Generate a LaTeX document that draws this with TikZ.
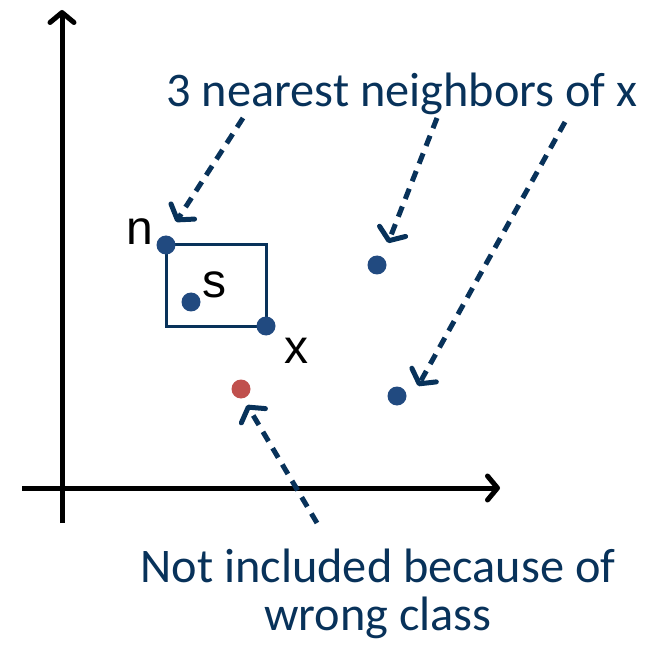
\documentclass[tikz,border=0pt]{standalone}
\usepackage{fontspec}
\setmainfont{Carlito}
\newfontfamily\arialfont{Liberation Sans}
\usetikzlibrary{arrows.meta}
\definecolor{navy}{RGB}{8,50,90}
\definecolor{dotblue}{RGB}{33,74,128}
\definecolor{dotred}{RGB}{192,80,77}
\tikzset{
  axis/.style={line width=5pt, -{Straight Barb[length=10pt,width=24pt,line width=5pt,round]}},
  ptr/.style={navy, line width=5pt, dash pattern=on 11pt off 8pt, -{Straight Barb[length=10pt,width=28pt,line width=5pt,round]}},
  dot/.style={circle, fill=#1, inner sep=0pt, minimum size=19pt},
  lbl/.style={font=\arialfont\fontsize{48}{52}\selectfont, anchor=base, inner sep=0pt},
  captext/.style={font=\fontsize{48.3}{52}\selectfont, text=navy, anchor=base, inner sep=0pt}
}
\begin{document}
\begin{tikzpicture}[x=1pt,y=-1pt]
\useasboundingbox (0,0) rectangle (651,647);
% axes
\coordinate (yb) at (62,523);
\coordinate (yt) at (62,10);
\coordinate (xl) at (22,488);
\coordinate (xr) at (500,488);
\draw[axis] (yb) -- (yt);
\draw[axis] (xl) -- (xr);
% points
\coordinate (nc) at (166,245);
\coordinate (xc) at (266,326);
\draw[navy, line width=3pt] (nc) rectangle (xc);
\node[dot=dotblue] (n) at (nc) {};
\node[dot=dotblue] (x) at (xc) {};
\node[dot=dotblue] (s) at (191,302) {};
\node[dot=dotblue] (p1) at (377,265) {};
\node[dot=dotblue] (p2) at (397,396) {};
\node[dot=dotred] (r) at (241,389) {};
% labels
\node[lbl] (ln) at (140,245) {n};
\node[lbl] (ls) at (214,298) {s};
\node[lbl] (lx) at (296,363) {x};
\node[captext] (t1) at (402,107) {3 nearest neighbors of x};
\node[captext] (t2) at (378,582) {Not included because of};
\node[captext] (t3) at (378,630) {wrong class};
% pointers
\coordinate (a1s) at (243,118);
\coordinate (a1e) at (176,222);
\coordinate (a2s) at (437,118);
\coordinate (a2e) at (388,243);
\coordinate (a3s) at (565,122);
\coordinate (a3e) at (418,386);
\coordinate (a4s) at (317,523);
\coordinate (a4e) at (247,405);
\draw[ptr] (a1s) -- (a1e);
\draw[ptr] (a2s) -- (a2e);
\draw[ptr] (a3s) -- (a3e);
\draw[ptr] (a4s) -- (a4e);
\end{tikzpicture}
\end{document}
